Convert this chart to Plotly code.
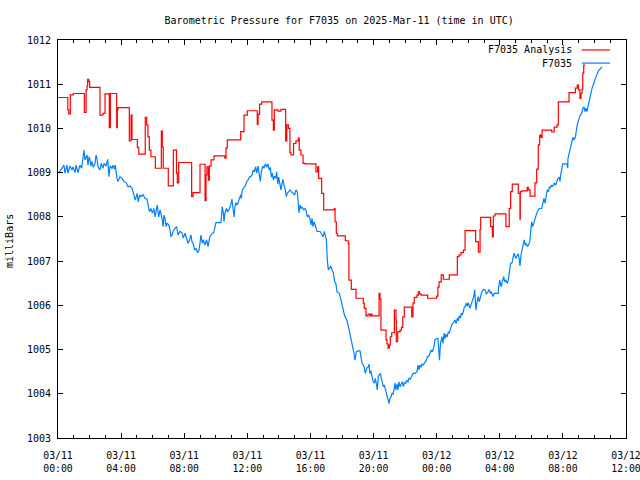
import pandas as pd
import plotly.graph_objects as go

START = "2025-03-11 00:00"
TITLE = "Barometric Pressure for F7035 on 2025-Mar-11 (time in UTC)"
Y_LABEL = "milliBars"
NAME_ANALYSIS = "F7035 Analysis"
NAME_STATION = "F7035"
Y_TICKS = [1003, 1004, 1005, 1006, 1007, 1008, 1009, 1010, 1011, 1012]

# F7035 Analysis (step values: each holds until the next time), hours after start
analysis_hours = [
    0.00, 0.62, 0.68, 0.78, 0.97, 1.67, 1.78, 1.84, 1.88, 1.95, 2.01, 2.66, 2.85, 2.98,
    3.25, 3.32, 3.72, 3.76, 3.80, 4.52, 4.63, 4.69, 5.03, 5.12, 5.53, 5.62, 5.70, 5.79,
    5.89, 6.17, 6.55, 6.61, 6.67, 6.99, 7.31, 7.51, 7.56, 7.65, 8.47, 8.56, 9.00, 9.32,
    9.38, 9.44, 9.53, 9.59, 9.70, 9.89, 10.58, 10.65, 10.73, 11.58, 11.79, 12.00, 12.63,
    12.68, 12.78, 12.91, 13.56, 13.65, 13.71, 13.94, 14.13, 14.43, 14.50, 14.60, 14.70,
    14.77, 14.93, 15.08, 15.23, 15.29, 15.40, 15.53, 15.66, 16.35, 16.46, 16.52, 16.71,
    16.84, 17.51, 17.56, 17.64, 17.70, 18.21, 18.40, 18.44, 18.59, 18.89, 19.35, 19.41,
    19.52, 19.65, 19.77, 19.84, 19.90, 20.35, 20.41, 20.47, 20.79, 20.85, 20.92, 21.00,
    21.06, 21.15, 21.32, 21.42, 21.44, 21.53, 21.68, 21.77, 21.85, 21.95, 22.42, 22.50,
    22.58, 22.75, 22.84, 22.90, 23.01, 23.43, 24.00, 24.08, 24.15, 24.29, 24.42, 24.80,
    25.31, 25.42, 25.54, 25.69, 25.80, 26.47, 26.64, 26.75, 26.79, 27.42, 27.53, 27.59,
    27.70, 28.39, 28.60, 28.69, 28.79, 29.17, 29.28, 29.30, 29.39, 29.74, 29.81, 29.92,
    30.23, 30.34, 30.44, 30.53, 30.61, 30.68, 31.29, 31.45, 31.63, 31.71, 32.39, 32.79,
    32.91, 32.99, 33.08, 33.15, 33.21, 33.26, 33.32, 33.40,
]
analysis_mb = [
    1010.70, 1010.42, 1010.33, 1010.76, 1010.79, 1010.36, 1010.87, 1010.96, 1011.11, 1011.06,
    1010.93, 1010.30, 1010.34, 1010.78, 1010.02, 1010.79, 1010.02, 1010.42, 1010.47, 1009.72,
    1010.30, 1009.75, 1009.57, 1009.42, 1010.25, 1010.08, 1009.81, 1009.51, 1009.36, 1009.10,
    1009.94, 1009.58, 1009.10, 1008.70, 1009.51, 1008.99, 1008.77, 1009.23, 1008.46, 1008.55,
    1009.19, 1008.37, 1008.95, 1009.13, 1008.83, 1009.15, 1009.29, 1009.38, 1009.33, 1009.56,
    1009.74, 1009.93, 1010.30, 1010.40, 1010.09, 1010.32, 1010.55, 1010.60, 1010.19, 1009.96,
    1010.42, 1010.39, 1010.43, 1009.72, 1010.08, 1010.00, 1009.45, 1009.40, 1009.66, 1009.72,
    1009.78, 1009.51, 1009.40, 1009.21, 1009.20, 1009.02, 1009.13, 1008.87, 1008.53, 1008.16,
    1008.19, 1007.89, 1007.63, 1007.57, 1007.46, 1007.39, 1006.57, 1006.36, 1006.16, 1006.05,
    1005.93, 1005.76, 1005.80, 1005.76, 1005.80, 1005.76, 1006.27, 1006.14, 1005.44, 1005.22,
    1005.13, 1005.03, 1005.10, 1005.29, 1005.38, 1005.89, 1005.67, 1005.18, 1005.40, 1005.44,
    1005.50, 1005.74, 1005.96, 1005.74, 1006.05, 1006.18, 1006.23, 1006.31, 1006.26, 1006.23,
    1006.16, 1006.21, 1006.41, 1006.53, 1006.69, 1006.59, 1006.69, 1007.10, 1007.14, 1007.19,
    1007.25, 1007.69, 1007.44, 1007.20, 1007.72, 1007.99, 1007.78, 1007.55, 1008.02, 1008.07,
    1007.78, 1008.19, 1008.57, 1008.74, 1008.53, 1007.95, 1008.57, 1008.59, 1008.67, 1008.61,
    1008.47, 1008.77, 1009.08, 1009.63, 1009.85, 1009.80, 1009.96, 1009.92, 1010.03, 1010.08,
    1010.60, 1010.81, 1010.91, 1010.98, 1010.87, 1010.68, 1010.79, 1010.89, 1011.25, 1011.43,
    1011.43,
]

# F7035 station observations, hours after start
station_hours = [
    0.04, 0.25, 0.38, 0.44, 0.57, 0.63, 0.76, 0.89, 0.95, 1.08, 1.14, 1.27, 1.39, 1.50,
    1.59, 1.65, 1.71, 1.84, 1.90, 1.97, 2.03, 2.09, 2.16, 2.24, 2.35, 2.41, 2.47, 2.54,
    2.66, 2.73, 2.85, 2.92, 3.04, 3.15, 3.23, 3.30, 3.42, 3.49, 3.57, 3.63, 3.74, 3.80,
    3.93, 4.06, 4.18, 4.33, 4.44, 4.56, 4.69, 4.82, 4.90, 5.01, 5.09, 5.18, 5.26, 5.39,
    5.51, 5.64, 5.70, 5.79, 5.89, 5.98, 6.08, 6.15, 6.29, 6.38, 6.47, 6.59, 6.66, 6.72,
    6.78, 6.85, 6.91, 7.02, 7.10, 7.16, 7.23, 7.29, 7.42, 7.52, 7.61, 7.73, 7.86, 7.94,
    8.05, 8.16, 8.24, 8.35, 8.43, 8.49, 8.58, 8.66, 8.75, 8.85, 8.94, 9.00, 9.06, 9.15,
    9.21, 9.32, 9.42, 9.51, 9.62, 9.70, 9.78, 9.87, 9.95, 10.01, 10.33, 10.38, 10.41,
    10.48, 10.52, 10.58, 10.67, 10.76, 10.84, 10.95, 11.03, 11.09, 11.16, 11.22, 11.28,
    11.36, 11.47, 11.58, 11.62, 11.68, 11.79, 11.87, 11.96, 12.04, 12.13, 12.21, 12.30,
    12.38, 12.44, 12.53, 12.59, 12.68, 12.74, 12.82, 12.89, 12.97, 13.06, 13.14, 13.23,
    13.31, 13.39, 13.46, 13.52, 13.58, 13.65, 13.71, 13.80, 13.86, 13.93, 13.99, 14.05,
    14.13, 14.20, 14.26, 14.32, 14.41, 14.47, 14.53, 14.62, 14.70, 14.79, 14.89, 15.00,
    15.08, 15.17, 15.23, 15.27, 15.34, 15.40, 15.48, 15.57, 15.66, 15.74, 15.80, 15.89,
    15.97, 16.04, 16.10, 16.16, 16.24, 16.33, 16.42, 16.61, 16.71, 16.80, 16.88, 16.94,
    17.01, 17.07, 17.13, 17.20, 17.28, 17.37, 17.45, 17.54, 17.62, 17.68, 17.83, 17.92,
    18.00, 18.06, 18.15, 18.23, 18.32, 18.40, 18.46, 18.55, 18.61, 18.68, 18.76, 18.82,
    18.91, 19.01, 19.14, 19.20, 19.27, 19.35, 19.41, 19.48, 19.57, 19.65, 19.71, 19.77,
    19.84, 19.90, 19.98, 20.05, 20.11, 20.17, 20.24, 20.30, 20.36, 20.43, 20.49, 20.55,
    20.62, 20.68, 20.77, 20.83, 20.92, 20.98, 21.04, 21.11, 21.17, 21.23, 21.30, 21.36,
    21.42, 21.49, 21.55, 21.61, 21.68, 21.74, 21.82, 21.89, 21.95, 22.04, 22.10, 22.18,
    22.25, 22.33, 22.42, 22.50, 22.63, 22.75, 22.82, 22.88, 22.94, 23.01, 23.07, 23.13,
    23.22, 23.32, 23.41, 23.50, 23.58, 23.64, 23.72, 23.81, 23.89, 23.98, 24.08, 24.18,
    24.24, 24.34, 24.40, 24.47, 24.53, 24.59, 24.66, 24.74, 24.80, 24.86, 24.93, 24.99,
    25.08, 25.16, 25.24, 25.31, 25.37, 25.43, 25.50, 25.56, 25.62, 25.69, 25.75, 25.82,
    25.88, 25.94, 26.01, 26.11, 26.18, 26.26, 26.35, 26.41, 26.45, 26.49, 26.56, 26.64,
    26.70, 26.77, 26.85, 26.96, 27.06, 27.15, 27.23, 27.32, 27.40, 27.46, 27.57, 27.65,
    27.91, 27.93, 28.00, 28.08, 28.16, 28.25, 28.31, 28.39, 28.48, 28.54, 28.60, 28.69,
    28.78, 28.84, 28.90, 28.97, 29.03, 29.11, 29.17, 29.24, 29.28, 29.35, 29.43, 29.49,
    29.55, 29.62, 29.68, 29.75, 29.81, 29.90, 29.96, 30.02, 30.09, 30.15, 30.21, 30.28,
    30.34, 30.42, 30.49, 30.66, 30.70, 30.76, 30.80, 30.87, 30.95, 31.01, 31.08, 31.14,
    31.20, 31.27, 31.33, 31.39, 31.46, 31.54, 31.61, 31.69, 31.77, 31.82, 31.86, 31.94,
    31.99, 32.26, 32.31, 32.32, 32.39, 32.45, 32.51, 32.58, 32.64, 32.70, 32.79, 32.83,
    32.89, 32.96, 33.02, 33.10, 33.19, 33.27, 33.34, 33.40, 33.46, 33.53, 33.59, 33.65,
    33.72, 33.78, 33.85, 33.91, 33.97, 34.04, 34.10, 34.16, 34.23, 34.29, 34.40, 34.48,
]
station_mb = [
    1008.99, 1009.12, 1009.17, 1008.99, 1009.17, 1008.99, 1009.15, 1009.06, 1009.13, 1009.00,
    1009.17, 1009.00, 1009.17, 1009.10, 1009.32, 1009.51, 1009.29, 1009.40, 1009.17, 1009.36,
    1009.29, 1009.15, 1009.25, 1009.12, 1009.21, 1009.40, 1009.32, 1009.13, 1009.06, 1009.21,
    1009.10, 1009.21, 1009.15, 1009.30, 1008.91, 1009.15, 1009.10, 1009.17, 1009.08, 1009.17,
    1008.87, 1008.80, 1008.91, 1008.87, 1008.80, 1008.77, 1008.68, 1008.70, 1008.65, 1008.50,
    1008.38, 1008.53, 1008.34, 1008.50, 1008.46, 1008.50, 1008.42, 1008.40, 1008.27, 1008.12,
    1008.19, 1008.08, 1008.19, 1008.00, 1008.27, 1008.00, 1008.16, 1007.97, 1007.78, 1008.04,
    1007.97, 1007.78, 1007.86, 1007.82, 1007.70, 1007.55, 1007.59, 1007.67, 1007.74, 1007.78,
    1007.59, 1007.67, 1007.64, 1007.52, 1007.63, 1007.48, 1007.40, 1007.49, 1007.59, 1007.44,
    1007.38, 1007.25, 1007.29, 1007.19, 1007.25, 1007.40, 1007.59, 1007.40, 1007.48, 1007.36,
    1007.48, 1007.33, 1007.55, 1007.59, 1007.63, 1007.64, 1007.78, 1007.87, 1007.87, 1008.08,
    1008.23, 1008.08, 1007.89, 1008.08, 1008.19, 1008.12, 1008.16, 1008.27, 1008.40, 1008.19,
    1008.00, 1008.23, 1008.32, 1008.27, 1008.38, 1008.50, 1008.42, 1008.61, 1008.67, 1008.70,
    1008.80, 1008.83, 1008.90, 1008.91, 1008.95, 1009.06, 1009.02, 1009.13, 1008.99, 1009.15,
    1009.00, 1008.80, 1009.02, 1009.15, 1009.10, 1009.20, 1009.12, 1009.20, 1009.06, 1009.12,
    1008.90, 1008.99, 1008.83, 1008.92, 1008.87, 1009.02, 1008.74, 1008.90, 1008.77, 1008.61,
    1008.76, 1008.85, 1008.72, 1008.61, 1008.46, 1008.53, 1008.57, 1008.61, 1008.57, 1008.53,
    1008.50, 1008.61, 1008.57, 1008.31, 1008.09, 1008.27, 1008.19, 1008.22, 1008.16, 1008.19,
    1008.12, 1008.00, 1008.04, 1007.95, 1007.82, 1007.97, 1007.78, 1007.89, 1007.76, 1007.67,
    1007.67, 1007.61, 1007.55, 1007.67, 1007.55, 1007.48, 1007.03, 1006.80, 1006.84, 1006.89,
    1006.80, 1006.74, 1006.53, 1006.48, 1006.31, 1006.27, 1006.14, 1005.97, 1005.93, 1005.78,
    1005.71, 1005.65, 1005.53, 1005.43, 1005.28, 1005.22, 1005.03, 1004.92, 1004.76, 1004.95,
    1004.97, 1004.97, 1004.84, 1004.69, 1004.65, 1004.60, 1004.46, 1004.58, 1004.60, 1004.67,
    1004.46, 1004.52, 1004.39, 1004.27, 1004.24, 1004.35, 1004.24, 1004.09, 1004.39, 1004.42,
    1004.46, 1004.35, 1004.24, 1004.16, 1004.20, 1004.09, 1003.97, 1003.86, 1003.78, 1003.90,
    1003.93, 1004.01, 1003.99, 1004.09, 1004.24, 1004.09, 1004.22, 1004.09, 1004.27, 1004.16,
    1004.20, 1004.27, 1004.16, 1004.25, 1004.24, 1004.30, 1004.27, 1004.35, 1004.33, 1004.39,
    1004.46, 1004.46, 1004.50, 1004.65, 1004.54, 1004.65, 1004.60, 1004.67, 1004.65, 1004.69,
    1004.73, 1004.84, 1004.85, 1004.92, 1004.99, 1004.95, 1005.03, 1005.22, 1005.25, 1005.25,
    1004.76, 1005.14, 1005.29, 1005.14, 1005.37, 1005.25, 1005.35, 1005.28, 1005.40, 1005.37,
    1005.48, 1005.53, 1005.58, 1005.61, 1005.67, 1005.59, 1005.71, 1005.65, 1005.76, 1005.71,
    1005.82, 1005.78, 1005.86, 1005.96, 1005.98, 1006.05, 1005.98, 1006.06, 1005.93, 1006.01,
    1006.05, 1006.20, 1006.35, 1006.12, 1005.89, 1006.08, 1006.20, 1006.08, 1006.20, 1006.29,
    1006.36, 1006.35, 1006.26, 1006.29, 1006.36, 1006.27, 1006.31, 1006.20, 1006.27, 1006.27,
    1006.42, 1006.57, 1006.42, 1006.53, 1006.65, 1006.53, 1006.57, 1006.50, 1006.57, 1006.74,
    1006.95, 1006.96, 1007.06, 1007.18, 1007.10, 1007.06, 1007.14, 1007.16, 1007.03, 1006.89,
    1007.14, 1007.25, 1007.36, 1007.48, 1007.36, 1007.40, 1007.33, 1007.36, 1007.44, 1007.70,
    1007.89, 1007.78, 1007.86, 1007.93, 1008.00, 1008.08, 1008.14, 1008.19, 1008.19, 1008.27,
    1008.38, 1008.42, 1008.31, 1008.53, 1008.61, 1008.57, 1008.68, 1008.65, 1008.72, 1008.68,
    1008.72, 1008.76, 1008.72, 1008.80, 1008.87, 1008.90, 1008.80, 1008.95, 1009.17, 1009.20,
    1009.20, 1009.10, 1009.32, 1009.44, 1009.51, 1009.66, 1009.72, 1009.80, 1009.74, 1009.80,
    1009.96, 1010.04, 1010.15, 1010.23, 1010.30, 1010.34, 1010.46, 1010.49, 1010.38, 1010.46,
    1010.38, 1010.49, 1010.60, 1010.68, 1010.79, 1010.91, 1010.98, 1011.02, 1011.11, 1011.17,
    1011.25, 1011.28, 1011.32, 1011.36, 1011.39,
]

start = pd.Timestamp(START)
def to_time(hours):
    return [start + pd.to_timedelta(h, unit="h") for h in hours]

RED = "#ff0000"
BLUE = "#0080ff"
FONT = "DejaVu Sans Mono"

fig = go.Figure()
fig.add_trace(go.Scatter(x=to_time(analysis_hours), y=analysis_mb, mode="lines",
                         line=dict(color=RED, width=1.2, shape="hv"), name=NAME_ANALYSIS))
fig.add_trace(go.Scatter(x=to_time(station_hours), y=station_mb, mode="lines",
                         line=dict(color=BLUE, width=1.2), name=NAME_STATION))

x_end = start + pd.Timedelta(hours=36)
fig.update_layout(
    width=640, height=480,
    margin=dict(l=58, r=14, t=40, b=42, autoexpand=False),
    paper_bgcolor="white", plot_bgcolor="white",
    font=dict(family=FONT, size=10, color="black"),
    showlegend=False,
    title=dict(text=TITLE, x=0.495, xanchor="center", xref="paper",
               y=1 - 20 / 480, yanchor="middle", yref="container",
               font=dict(family=FONT, size=10, color="black")),
)
fig.update_xaxes(
    type="date", range=[start, x_end], showgrid=False, zeroline=False, automargin=False,
    showline=True, linecolor="black", linewidth=1, mirror="allticks",
    ticks="inside", ticklen=5, tickcolor="black",
    tick0=start, dtick=4 * 3600 * 1000, tickformat="%m/%d<br>%H:%M",
    tickfont=dict(family=FONT, size=9.8, color="black"),
    ticklabelstandoff=8, ticklabeloverflow="allow",
    minor=dict(ticks="inside", ticklen=3, dtick=3600 * 1000, tickcolor="black", showgrid=False),
)
fig.update_yaxes(
    range=[Y_TICKS[0], Y_TICKS[-1]], tickvals=Y_TICKS, showgrid=False, zeroline=False,
    automargin=False,
    showline=True, linecolor="black", linewidth=1, mirror="allticks",
    ticks="inside", ticklen=5, tickcolor="black", ticklabelstandoff=4,
)

# y-axis label placed like gnuplot's ylabel
fig.add_annotation(text=Y_LABEL, xref="paper", yref="paper", x=(10 - 58) / 568, y=0.495,
                   xanchor="center", yanchor="middle", textangle=-90, showarrow=False,
                   font=dict(family=FONT, size=10, color="black"))

# gnuplot-style key: right-aligned text followed by a line sample
key = [(NAME_ANALYSIS, RED, 0.975), (NAME_STATION, BLUE, 0.942)]
for label, color, ky in key:
    fig.add_annotation(text=label, xref="paper", yref="paper", x=0.909, y=ky,
                       xanchor="right", yanchor="middle", showarrow=False,
                       font=dict(family=FONT, size=10, color="black"))
    fig.add_shape(type="line", xref="paper", yref="paper", x0=0.922, x1=0.972,
                  y0=ky, y1=ky, line=dict(color=color, width=1.2))

# the page's default body margin would push the 640x480 figure off the window
fig.write_html("out.html",
               config={"displayModeBar": False, "staticPlot": True},
               post_script="document.body.style.margin='0';document.body.style.overflow='hidden';")
